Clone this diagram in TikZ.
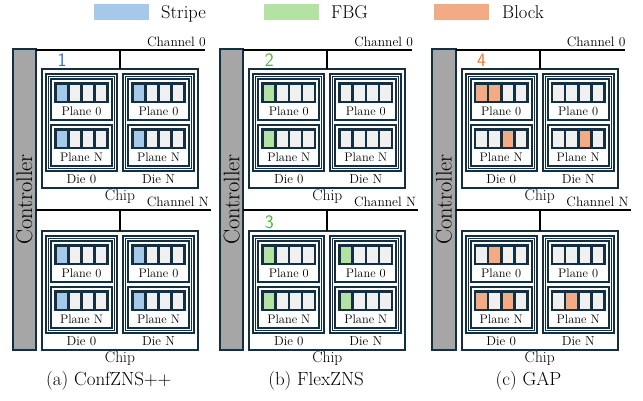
\documentclass[tikz,border=0pt]{standalone}
\definecolor{navy}{RGB}{20,48,64}
\definecolor{zgrey}{RGB}{240,240,240}
\definecolor{ctrlgrey}{RGB}{166,166,166}
\definecolor{zblue}{RGB}{166,201,234}
\definecolor{zgreen}{RGB}{180,226,162}
\definecolor{zorange}{RGB}{242,171,132}
\definecolor{nblue}{RGB}{40,120,210}
\definecolor{ngreen}{RGB}{80,180,60}
\definecolor{norange}{RGB}{240,125,55}
\newcommand\fs[1]{\fontsize{#1}{#1}\selectfont}
\tikzset{
 frame/.style={draw=navy, line width=2pt},
 thinframe/.style={draw=navy, line width=0.8pt},
 planebox/.style={draw=navy, line width=2pt, fill=white},
 chipbox/.style={draw=navy, line width=2pt, fill=white, minimum width=156pt, minimum height=119pt, inner sep=0pt, outer sep=0pt},
 ctrl/.style={draw=navy, line width=2pt, fill=ctrlgrey, rotate=90, minimum width=301pt, minimum height=23.3pt, inner sep=0pt, outer sep=0pt, font=\fs{22.5}},
 chan/.style={line width=2.5pt, black},
 link/.style={line width=2pt, black},
 planelbl/.style={font=\fs{12.4}, inner sep=0pt},
 dielbl/.style={font=\fs{13}, inner sep=0pt},
 chiplbl/.style={font=\fs{15.5}, inner sep=0pt},
 chanlbl/.style={font=\fs{13.5}, inner sep=0pt, anchor=base east},
 num/.style={font=\sffamily\fs{19}, inner sep=0pt},
 caption/.style={font=\fs{19}, inner sep=0pt},
 legend/.style={font=\fs{18.5}, inner sep=0pt, anchor=base west},
}
% plane: name x y colors label
\newcommand\plane[5]{%
  \draw[planebox] (#2,#3) rectangle ++(61,41);
  \fill[navy] ({#2+3},{#3+3}) rectangle ++(55,21);
  \foreach \c [count=\i from 0] in {#4} {\fill[\c] ({#2+5.6+\i*13.1},{#3+5.5}) rectangle ++(10.5,16);}
  \node[planelbl] (#1l) at ({#2+30.5},{#3+32.5}) {#5};
}
% die: name x y label p0colors pNcolors
\newcommand\die[6]{%
  \draw[frame] (#2,#3) rectangle ++(71,97);
  \draw[thinframe] ({#2+2.5},{#3+2.5}) rectangle ++(66,92);
  \plane{#1p0}{#2+5}{#3+5}{#5}{Plane 0}
  \plane{#1pN}{#2+5}{#3+51}{#6}{Plane N}
  \node[dielbl] (#1l) at ({#2+35.5},{#3+105}) {#4};
}
% chip: name x y d0p0 d0pN dNp0 dNpN
\newcommand\chip[7]{%
  \node[chipbox] (#1) at ({#2+78},{#3+59.5}) {};
  \die{#1d0}{#2+4}{#3+5}{Die 0}{#4}{#5}
  \die{#1dN}{#2+81}{#3+5}{Die N}{#6}{#7}
  \node[chiplbl] (#1l) at ({#2+78},{#3+128}) {Chip};
}
\begin{document}
\begin{tikzpicture}[x=1pt,y=-1pt]
\useasboundingbox (0,0) rectangle (643,400);
% legend
\fill[zblue] (94,4) rectangle (148.7,19.7);
\node[legend] (legS) at (161,18.5) {Stripe};
\fill[zgreen] (264,4) rectangle (319,19.7);
\node[legend] (legF) at (331,18.5) {FBG};
\fill[zorange] (434,4) rectangle (488.7,19.7);
\node[legend] (legB) at (502,18.5) {Block};

% ---------- panel a ----------
\begin{scope}
 \node[ctrl] (ctrlA) at (24.35,199.5) {Controller};
 \coordinate (cA0) at (205,50);
 \coordinate (cAN) at (211,210);
 \draw[chan] (ctrlA.south |- cA0) -- (cA0);
 \draw[chan] (ctrlA.south |- cAN) -- (cAN);
 \chip{A1}{42}{69}{zblue,zgrey,zgrey,zgrey}{zblue,zgrey,zgrey,zgrey}{zblue,zgrey,zgrey,zgrey}{zblue,zgrey,zgrey,zgrey}
 \chip{A2}{42}{231}{zblue,zgrey,zgrey,zgrey}{zblue,zgrey,zgrey,zgrey}{zblue,zgrey,zgrey,zgrey}{zblue,zgrey,zgrey,zgrey}
 \draw[link] (cA0 -| A1.north) -- (A1.north);
 \draw[link] (cAN -| A2.north) -- (A2.north);
 \node[chanlbl] (lA0) at ([xshift=1pt,yshift=4pt]cA0) {Channel 0};
 \node[chanlbl] (lAN) at ([xshift=-2pt,yshift=3.5pt]cAN) {Channel N};
 \node[num, text=nblue] (nA1) at (62,60) {1};
 \node[caption] (capA) at (108.8,381) {(a) ConfZNS++};
\end{scope}

% ---------- panel b ----------
\begin{scope}[xshift=207.3pt]
 \node[ctrl] (ctrlB) at (24.35,199.5) {Controller};
 \coordinate (cB0) at (205,50);
 \coordinate (cBN) at (211,210);
 \draw[chan] (ctrlB.south |- cB0) -- (cB0);
 \draw[chan] (ctrlB.south |- cBN) -- (cBN);
 \chip{B1}{42}{69}{zgreen,zgrey,zgrey,zgrey}{zgreen,zgrey,zgrey,zgrey}{zgrey,zgrey,zgrey,zgrey}{zgrey,zgrey,zgrey,zgrey}
 \chip{B2}{42}{231}{zgreen,zgrey,zgrey,zgrey}{zgreen,zgrey,zgrey,zgrey}{zgreen,zgrey,zgrey,zgrey}{zgreen,zgrey,zgrey,zgrey}
 \draw[link] (cB0 -| B1.north) -- (B1.north);
 \draw[link] (cBN -| B2.north) -- (B2.north);
 \node[chanlbl] (lB0) at ([xshift=1pt,yshift=4pt]cB0) {Channel 0};
 \node[chanlbl] (lBN) at ([xshift=-2pt,yshift=3.5pt]cBN) {Channel N};
 \node[num, text=ngreen] (nB1) at (62,60) {2};
 \node[num, text=ngreen] (nB2) at (62,222) {3};
 \node[caption] (capB) at (108.8,381) {(b) FlexZNS};
\end{scope}

% ---------- panel c ----------
\begin{scope}[xshift=419.7pt]
 \node[ctrl] (ctrlC) at (24.35,199.5) {Controller};
 \coordinate (cC0) at (205,50);
 \coordinate (cCN) at (211,210);
 \draw[chan] (ctrlC.south |- cC0) -- (cC0);
 \draw[chan] (ctrlC.south |- cCN) -- (cCN);
 \chip{C1}{42}{69}{zorange,zorange,zgrey,zgrey}{zgrey,zgrey,zorange,zgrey}{zgrey,zgrey,zgrey,zgrey}{zgrey,zgrey,zorange,zgrey}
 \chip{C2}{42}{231}{zgrey,zorange,zgrey,zgrey}{zorange,zgrey,zorange,zgrey}{zgrey,zgrey,zgrey,zgrey}{zgrey,zorange,zgrey,zgrey}
 \draw[link] (cC0 -| C1.north) -- (C1.north);
 \draw[link] (cCN -| C2.north) -- (C2.north);
 \node[chanlbl] (lC0) at ([xshift=1pt,yshift=4pt]cC0) {Channel 0};
 \node[chanlbl] (lCN) at ([xshift=-2pt,yshift=3.5pt]cCN) {Channel N};
 \node[num, text=norange] (nC1) at (62,60) {4};
 \node[caption] (capC) at (108.8,381) {(c) GAP};
\end{scope}
\end{tikzpicture}
\end{document}
